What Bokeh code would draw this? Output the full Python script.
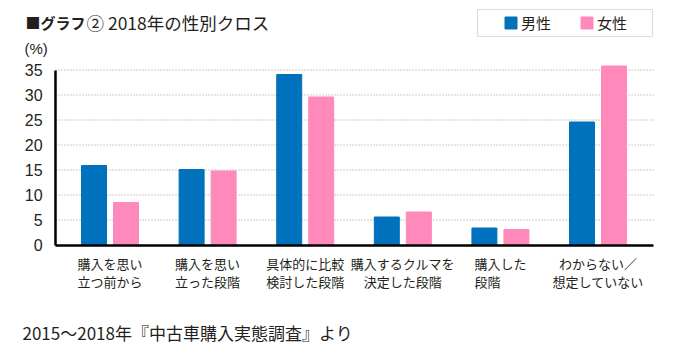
from bokeh.plotting import figure
from bokeh.models import (ColumnDataSource, Range1d, FixedTicker, Label, Legend,
                          LegendItem, BoxAnnotation)
from bokeh.transform import dodge
from bokeh.embed import file_html
from bokeh.resources import INLINE

categories = [
    "購入を思い\n立つ前から",
    "購入を思い\n立った段階",
    "具体的に比較\n検討した段階",
    "購入するクルマを\n決定した段階",
    "購入した\n段階\u3000\u3000",
    "わからない／\n想定していない",
]
male = [15.9, 15.1, 34.1, 5.6, 3.4, 24.6]
female = [8.5, 14.8, 29.6, 6.6, 3.1, 35.8]
y_ticks = [0, 5, 10, 15, 20, 25, 30, 35]
series_names = ["男性", "女性"]

BLUE = "#0071bc"
PINK = "#ff89bb"
JP = "Noto Sans CJK JP"
TXT = "#231f20"

W, H = 664, 344
X0, X1 = -0.558, 5.569        # plotting area along x (axis start / end)

xs = list(range(len(categories)))
src = ColumnDataSource(dict(x=xs, male=male, female=female))
grid_src = ColumnDataSource(dict(y=y_ticks[1:], x0=[X0] * 7, x1=[X1] * 7))

p = figure(width=W, height=H, output_backend="svg", toolbar_location=None,
           x_range=Range1d(-1.122, 5.681), y_range=Range1d(-19.9, 48.9),
           min_border=0)
p.outline_line_color = None
p.xgrid.visible = False
p.ygrid.visible = False

# dotted grid lines at the y ticks
p.segment(x0="x0", x1="x1", y0="y", y1="y", source=grid_src,
          line_color="#9a9a9a", line_dash="1 2", line_width=1)

r1 = p.vbar(x=dodge("x", -0.164, range=p.x_range), top="male", width=0.256,
            source=src, fill_color=BLUE, line_color=BLUE)
r2 = p.vbar(x=dodge("x", 0.164, range=p.x_range), top="female", width=0.256,
            source=src, fill_color=PINK, line_color=PINK)

# axes (fixed inside the frame)
xa = p.xaxis[0]
xa.fixed_location = 0
xa.bounds = (X0, X1)
xa.ticker = FixedTicker(ticks=xs)
xa.major_label_overrides = {i: c for i, c in enumerate(categories)}
xa.major_label_text_font = JP
xa.major_label_text_font_size = "13px"
xa.major_label_text_color = TXT
xa.major_label_text_line_height = 0.97
xa.major_label_standoff = 3
xa.axis_line_width = 2.5
xa.axis_line_color = "black"
xa.major_tick_line_color = None
xa.minor_tick_line_color = None

ya = p.yaxis[0]
ya.fixed_location = X0
ya.bounds = (0, 35)
ya.ticker = FixedTicker(ticks=y_ticks)
ya.major_label_text_font = "Liberation Sans"
ya.major_label_text_font_size = "16px"
ya.major_label_text_color = TXT
ya.major_label_standoff = 7
ya.axis_line_width = 2.5
ya.axis_line_color = "black"
ya.major_tick_line_color = None
ya.minor_tick_line_color = None

# legend with outer box
box = BoxAnnotation(left=477, right=652, bottom=H - 36, top=H - 9,
                    left_units="screen", right_units="screen",
                    bottom_units="screen", top_units="screen",
                    fill_color=None, line_color="#8a8a8a", line_width=1.2)
p.add_layout(box)
legend = Legend(items=[LegendItem(label=series_names[0], renderers=[r1]),
                       LegendItem(label=series_names[1], renderers=[r2])],
                location=(503, H - 33), orientation="horizontal",
                padding=0, margin=0, spacing=28, label_standoff=3,
                glyph_width=15, glyph_height=15,
                label_text_font=JP, label_text_font_size="15px",
                label_text_color=TXT,
                border_line_color=None, background_fill_alpha=0)
p.add_layout(legend)

# texts
p.add_layout(Label(x=25, y=H - 22, x_units="screen", y_units="screen",
                   text="■グラフ", text_font=JP, text_font_style="bold",
                   text_font_size="15px", text_baseline="middle",
                   text_color=TXT))
p.add_layout(Label(x=86, y=H - 22, x_units="screen", y_units="screen",
                   text="② 2018年の性別クロス", text_font=JP,
                   text_font_size="17.5px", text_baseline="middle",
                   text_color=TXT))
p.add_layout(Label(x=24, y=H - 48, x_units="screen", y_units="screen",
                   text="(%)", text_font="Liberation Sans",
                   text_font_size="15px", text_baseline="middle",
                   text_color=TXT))
p.add_layout(Label(x=22, y=H - 332, x_units="screen", y_units="screen",
                   text="2015～2018年『中古車購入実態調査』より", text_font=JP,
                   text_font_size="17px", text_baseline="middle",
                   text_color=TXT))

open("out.html", "w").write(file_html(p, INLINE))
